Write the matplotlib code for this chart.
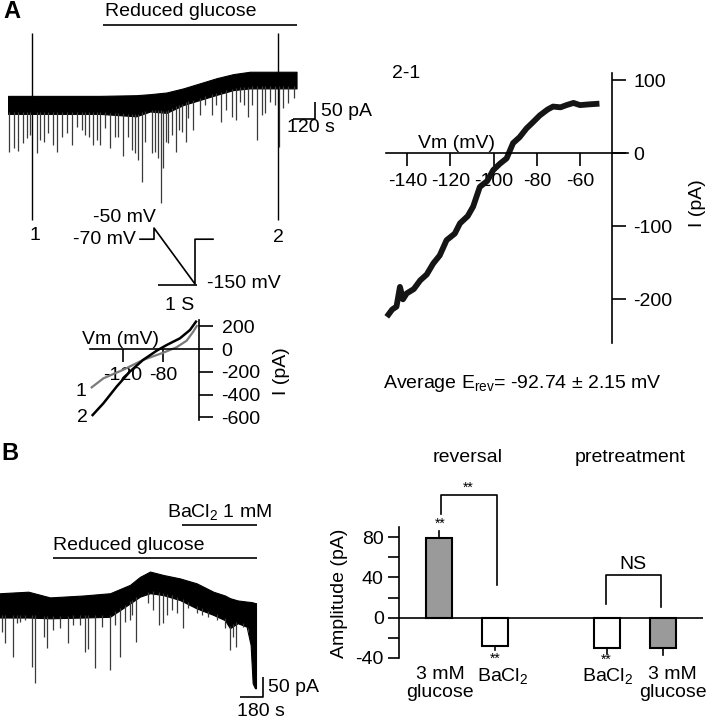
import numpy as np
import matplotlib.pyplot as plt

plt.rcParams['font.family'] = ['Liberation Sans', 'DejaVu Sans']
plt.rcParams['mathtext.fontset'] = 'custom'
plt.rcParams['mathtext.rm'] = 'Liberation Sans'
plt.rcParams['mathtext.it'] = 'Liberation Sans:italic'
plt.rcParams['axes.unicode_minus'] = False
plt.rcParams['font.size'] = 14

W, H = 708, 720

# ---- A: whole-cell trace (time in s, current in pA) ----
a_env_t = [0, 500, 700, 775, 865, 956, 1047, 1138, 1229, 1320, 1574]
a_env_top = [18, 18, 20, 23, 28, 40, 55, 70, 82, 89, 89]
a_env_bot = [-35, -35, -42, -28, -32, -9, 6, 21, 35, 40, 40]
a_spike_t = [7, 33, 56, 84, 102, 120, 156, 175, 198, 220, 247, 265, 293, 320, 347, 374,
             402, 420, 444, 465, 487, 502, 529, 556, 583, 602, 629, 656, 674, 693, 711,
             729, 747, 784, 802, 820, 834, 847, 862, 874, 893, 916, 934, 947, 971, 984,
             1007, 1047, 1074, 1111, 1134, 1160, 1189, 1220, 1244, 1265, 1287, 1311, 1329,
             1360, 1384, 1402, 1429, 1456, 1478, 1502, 1529, 1560]
a_spike_pa = [-148, -136, -144, -122, -105, -97, -151, -112, -119, -92, -126, -146, -102,
              -92, -126, -73, -82, -97, -102, -126, -112, -126, -77, -136, -102, -102, -158,
              -102, -141, -151, -171, -234, -117, -151, -146, -166, -298, -195, -117, -122,
              -97, -146, -82, -87, -117, -48, -82, -38, -9, -38, -9, -58, -24, -43, -53, 1,
              -9, -43, -9, -112, -38, -33, 1, -9, -131, -19, -4, 11]
a_marks_t = [131, 1473]
a_marks_lab = ['1', '2']

# ---- A: voltage protocol (s, mV) ----
prot_t = [0, 0.35, 0.35, 1.375, 1.375, 1.825]
prot_v = [-70, -70, -50, -150, -70, -70]

# ---- A: I-V curves at time points 1 and 2 ----
iv1_v = [-150.5, -139, -120, -100, -80, -67, -57, -50.5, -47]
iv1_i = [-336, -257, -184, -96, -32, 15, 73, 152, 202]
iv2_v = [-149.6, -139, -126, -113, -100, -86.6, -76.7, -63.6, -53.7, -47.8]
iv2_i = [-579, -476, -330, -199, -96, -15, 35, 94, 167, 240]
iv_small_xt = [-120, -80]
iv_small_yt = [200, 0, -200, -400, -600]

# ---- A: difference current 2-1 ----
diff_v = [-149.5, -147, -145, -143.4, -142, -140.3, -137, -134, -131, -128, -125,
          -121.8, -118, -115.6, -112, -109.5, -106.4, -103, -100.2, -97, -94, -91, -88,
          -84.8, -82, -78.6, -75, -72.5, -69, -66.3, -63, -60, -56, -51]
diff_i = [-224, -214, -210, -183, -200, -192, -186, -174, -166, -151, -140, -119, -110,
          -96, -86, -73, -46, -38, -23, -14, -7, 14, 22, 34, 42, 52, 60, 64, 63, 66, 69,
          66, 67, 68]
diff_xt = [-140, -120, -100, -80, -60]
diff_yt = [100, 0, -100, -200]

# ---- B: trace ----
b_env_t = [0, 222, 391, 652, 861, 1017, 1095, 1174, 1278, 1408, 1539, 1669, 1760, 1799,
           1860, 1930, 1961, 1977, 1995, 2003]
b_env_top = [31, 35, 20, 25, 31, 53, 74, 88, 79, 70, 57, 35, 25, 18, 12, 9, 8, 7, 5, 5]
b_env_bot = [-33, -33, -35, -33, -31, 4, 22, 31, 26, 13, -9, -26, -40, -61, -48, -57,
             -105, -206, -219, -219]
b_spike_t = [13, 39, 99, 130, 156, 196, 248, 274, 344, 365, 417, 469, 535, 574, 626, 665,
             691, 743, 795, 861, 900, 939, 978, 1017, 1030, 1064, 1160, 1200, 1247, 1278,
             1309, 1343, 1382, 1429, 1473, 1539, 1578, 1630, 1695, 1760, 1799, 1825, 1846,
             1904, 1943]
b_spike_pa = [-70, -101, -136, -48, -44, -39, -162, -204, -83, -114, -66, -61, -101, -53,
              -53, -123, -117, -167, -57, -171, -53, -136, -44, -39, -26, -97, 4, -13, -53,
              -48, -26, -13, -22, -61, -9, -22, -26, -31, -39, -61, -118, -83, -110, -57,
              -61]

# ---- B: amplitude bars ----
bar_labels = ['3 mM\nglucose', 'BaCl$_2$', 'BaCl$_2$', '3 mM\nglucose']
bar_pos = [0, 1, 3, 4]
bar_vals = [79, -28.5, -30, -30.4]
bar_err = [7, 3.5, 6, 7]
bar_colors = ['#9a9a9a', 'white', 'white', '#9a9a9a']
label_shift = [0.02, 0.14, 0.02, 0.17]

fig = plt.figure(figsize=(W / 100, H / 100), dpi=100)

ov = fig.add_axes([0, 0, 1, 1])
ov.set_xlim(0, W)
ov.set_ylim(H, 0)
ov.axis('off')


def place(xlim, xpix, ylim, ypix):
    # axes whose data limits land on the given pixel positions (y from top)
    ax = fig.add_axes([xpix[0] / W, 1 - ypix[0] / H,
                       (xpix[1] - xpix[0]) / W, (ypix[0] - ypix[1]) / H])
    ax.set_xlim(xlim)
    ax.set_ylim(ylim)
    ax.patch.set_alpha(0)
    return ax


def txt(x, y, s, **kw):
    kw.setdefault('ha', 'center')
    kw.setdefault('va', 'center')
    ov.text(x, y, s, **kw)


def seg(xs, ys, lw=1.2, c='black'):
    ov.plot(xs, ys, color=c, lw=lw, solid_capstyle='butt')


# ================= panel A trace =================
ta = place((0, 1600), (8, 301.3), (-400, 300), (238, 0))
ta.axis('off')
base = np.interp(a_spike_t, a_env_t, a_env_bot) + 6
ta.vlines(a_spike_t, a_spike_pa, base, color='#3a3a3a', lw=0.9)
ta.fill_between(a_env_t, a_env_bot, a_env_top, color='black', lw=0.8)
ta.vlines(a_marks_t, -347, 202, color='black', lw=1.0)

txt(12, 11, 'A', fontsize=17, fontweight='bold')
txt(181, 12, 'Reduced glucose')
seg([103, 297], [25, 25])
seg([293, 315, 315], [119.3, 119.3, 101.7])
txt(321, 111, '50 pA', ha='left')
txt(311, 128, '120 s')
txt(35, 236, a_marks_lab[0])
txt(278, 237, a_marks_lab[1])

# ================= protocol =================
pr = place((0, 1.825), (140, 213), (-150, -50), (284, 228))
pr.axis('off')
pr.plot(prot_t, prot_v, color='black', lw=1.2, clip_on=False)
txt(156, 218, '-50 mV', ha='right')
txt(136, 240, '-70 mV', ha='right')
txt(207, 284, '-150 mV', ha='left')
seg([158, 197], [285, 285])
txt(180, 306, '1 S')

# ================= small I-V =================
iv = place((-152, -44.5), (90.2, 199.3), (-626, 253), (420.4, 320.2))
for s in ['left', 'top']:
    iv.spines[s].set_visible(False)
iv.spines['bottom'].set_position(('data', 0))
iv.spines['bottom'].set_linewidth(1.2)
iv.spines['right'].set_linewidth(1.2)
iv.yaxis.set_ticks_position('right')
iv.set_xticks(iv_small_xt)
iv.set_yticks(iv_small_yt)
iv.tick_params(axis='x', direction='out', length=9, width=1.2, pad=4)
iv.tick_params(axis='y', direction='out', length=10, width=1.2, pad=6)
iv.plot(iv1_v, iv1_i, color='#7a7a7a', lw=1.6, clip_on=False)
iv.plot(iv2_v, iv2_i, color='black', lw=1.8, clip_on=False)
txt(120, 339, 'Vm (mV)')
txt(282, 371, 'I (pA)', rotation=90)
txt(81, 392, '1')
txt(82, 418, '2')

# ================= 2-1 I-V =================
dv = place((-150, -38), (385.7, 627.5), (-260, 110), (343.1, 73))
for s in ['left', 'top']:
    dv.spines[s].set_visible(False)
dv.spines['bottom'].set_position(('data', 0))
dv.spines['right'].set_position(('data', -45))
dv.spines['bottom'].set_linewidth(1.2)
dv.spines['right'].set_linewidth(1.2)
dv.yaxis.set_ticks_position('right')
dv.set_xticks(diff_xt)
dv.set_yticks(diff_yt)
dv.tick_params(axis='x', direction='out', length=9.5, width=1.2, pad=5)
dv.tick_params(axis='y', direction='out', length=10, width=1.2, pad=5)
dv.plot(diff_v, diff_i, color='#151515', lw=4.2, clip_on=False,
        solid_joinstyle='round', solid_capstyle='butt')
txt(392, 73, '2-1', ha='left')
txt(457, 143, 'Vm (mV)')
txt(697, 203, 'I (pA)', rotation=90)
txt(522, 384, r'Average E$_\mathrm{rev}$= -92.74 ± 2.15 mV')

# ================= panel B trace =================
tb = place((0, 2050), (0, 262), (-250, 100), (700, 567))
tb.axis('off')
base_b = np.interp(b_spike_t, b_env_t, b_env_bot) + 6
tb.vlines(b_spike_t, b_spike_pa, base_b, color='#3a3a3a', lw=0.9)
tb.fill_between(b_env_t, b_env_bot, b_env_top, color='black', lw=0.8)

txt(10, 454, 'B', fontsize=17, fontweight='bold')
txt(220, 512, 'BaCl$_2$ 1 mM')
seg([182, 257], [525, 525])
txt(129, 546, 'Reduced glucose')
seg([53, 257], [558, 558])
seg([240, 263.3, 263.3], [697, 697, 677])
txt(268, 688, '50 pA', ha='left')
txt(261, 712, '180 s')

# ================= B bars =================
bx = place((-0.714, 4.714), (399, 703), (-40, 90), (658, 527))
for s in ['right', 'top', 'bottom']:
    bx.spines[s].set_visible(False)
bx.spines['left'].set_linewidth(1.2)
bx.set_xticks([])
bx.set_yticks([-40, 0, 40, 80])
bx.set_yticks([-20, 20, 60], minor=True)
bx.tick_params(axis='y', which='both', direction='out', length=8, width=1.2, pad=3)
bx.bar(bar_pos, bar_vals, width=0.47, color=bar_colors, edgecolor='black', lw=1.5, zorder=2)
for x, v, e in zip(bar_pos, bar_vals, bar_err):
    bx.plot([x, x], [v, v + np.sign(v) * e], color='black', lw=1.2, zorder=1, clip_on=False)
bx.axhline(0, color='black', lw=1.2, zorder=3)
for x, lab, dx in zip(bar_pos, bar_labels, label_shift):
    bx.text(x + dx, -48, lab, ha='center', va='top', linespacing=1.1)
bx.text(0.02, 93, '**', ha='center', va='center', fontsize=10)
bx.text(1.0, -40.5, '**', ha='center', va='center', fontsize=10)
bx.text(2.98, -42, '**', ha='center', va='center', fontsize=10)
bx.plot([0.03, 0.03, 1.04, 1.04], [103, 122, 122, 32.4], color='black', lw=1.2, clip_on=False)
bx.text(0.52, 129, '**', ha='center', va='center', fontsize=10)
bx.plot([2.98, 2.98, 3.96, 3.96], [13.6, 42.4, 42.4, 10.2], color='black', lw=1.2, clip_on=False)
bx.text(3.47, 53, 'NS', ha='center', va='center')
txt(468, 457, 'reversal')
txt(630, 457, 'pretreatment')
txt(340, 593, 'Amplitude (pA)', rotation=90)

fig.savefig('out.png', dpi=100)
